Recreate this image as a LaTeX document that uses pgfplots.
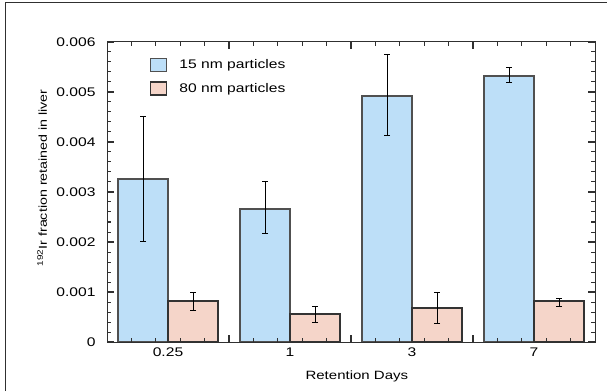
\documentclass[border=0pt]{standalone}
\usepackage{fontspec}
\setmainfont[FakeStretch=1.25]{Liberation Sans}
\usepackage{pgfplots}
\pgfplotsset{compat=1.18}
\definecolor{barblue}{HTML}{BDDFF8}
\definecolor{barpink}{HTML}{F5D5C9}
\definecolor{edgegrey}{HTML}{505050}
\definecolor{axgrey}{HTML}{303030}
\begin{document}
\begin{tikzpicture}
\path[use as bounding box] (0,0) rectangle (607pt,391pt);
\draw[axgrey, line width=1pt] (5pt,0pt) -- (5pt,388.3pt) -- (607pt,388.3pt);
\begin{axis}[
  at={(107pt,49pt)}, anchor=south west,
  width=488pt, height=300pt, scale only axis,
  axis on top, clip=false,
  xmin=-0.5, xmax=3.5, ymin=0, ymax=0.006,
  ybar=0pt, bar width=50pt,
  axis line style={axgrey, line width=1pt},
  tick style={axgrey, line width=1.2pt},
  minor tick style={axgrey, line width=1pt},
  tick align=inside,
  xtick={0.5,1.5,2.5}, xticklabels={},
  minor xtick={-0.3,-0.1,0.1,0.3,0.7,0.9,1.1,1.3,1.7,1.9,2.1,2.3,2.7,2.9,3.1,3.3},
  major tick length=7pt, minor tick length=4pt,
  ytick={0,0.001,0.002,0.003,0.004,0.005,0.006},
  minor ytick={0.0002,0.0004,0.0006,0.0008,0.0012,0.0014,0.0016,0.0018,0.0022,0.0024,0.0026,0.0028,0.0032,0.0034,0.0036,0.0038,0.0042,0.0044,0.0046,0.0048,0.0052,0.0054,0.0056,0.0058},
  scaled y ticks=false,
  yticklabel style={/pgf/number format/fixed, /pgf/number format/precision=3},
  /pgf/number format/assume math mode=true,
  tick label style={font=\fontsize{12.5}{14}\selectfont},
  yticklabel style={xshift=-8pt},
  xlabel={Retention Days},
  xlabel style={font=\fontsize{12}{13}\selectfont, at={(0.512,-0.115)}, anchor=center},
  ylabel={\textsuperscript{192}Ir fraction retained in liver},
  ylabel style={font=\fontsize{11.4}{12}\selectfont, at={(-0.133,0.547)}, anchor=center},
  legend style={at={(0.082,0.955)}, anchor=north west, draw=none, fill=none,
    font=\fontsize{12.5}{14}\selectfont, row sep=9pt, column sep=10pt},
  legend cell align=left,
  legend image code/.code={\draw[#1] (0pt,-6.5pt) rectangle (16pt,6.5pt);},
  error bars/error bar style={black, line width=1pt},
  error bars/error mark options={rotate=90, mark size=3pt, black, line width=1pt},
]
\addplot[fill=barblue, draw=edgegrey, line width=1.2pt,
  error bars/.cd, y dir=both, y explicit]
  coordinates {
    (0,0.00326) +=(0,0.00124) -=(0,0.00124)
    (1,0.00266) +=(0,0.00054) -=(0,0.00048)
    (2,0.00492) +=(0,0.00082) -=(0,0.00080)
    (3,0.00532) +=(0,0.00016) -=(0,0.00014)
  };
\addplot[fill=barpink, draw=black!80, line width=1.2pt,
  error bars/.cd, y dir=both, y explicit]
  coordinates {
    (0,0.00082) +=(0,0.00018) -=(0,0.00018)
    (1,0.00056) +=(0,0.00016) -=(0,0.00016)
    (2,0.00068) +=(0,0.00032) -=(0,0.00030)
    (3,0.00082) +=(0,0.00006) -=(0,0.00010)
  };
\legend{15 nm particles, 80 nm particles}
\node[anchor=north, yshift=-4pt, inner sep=2pt, font=\fontsize{12.5}{14}\selectfont] at (axis cs:0,0) {0.25};
\node[anchor=north, yshift=-4pt, inner sep=2pt, font=\fontsize{12.5}{14}\selectfont] at (axis cs:1,0) {1};
\node[anchor=north, yshift=-4pt, inner sep=2pt, font=\fontsize{12.5}{14}\selectfont] at (axis cs:2,0) {3};
\node[anchor=north, yshift=-4pt, inner sep=2pt, font=\fontsize{12.5}{14}\selectfont] at (axis cs:3,0) {7};
\end{axis}
\end{tikzpicture}
\end{document}
